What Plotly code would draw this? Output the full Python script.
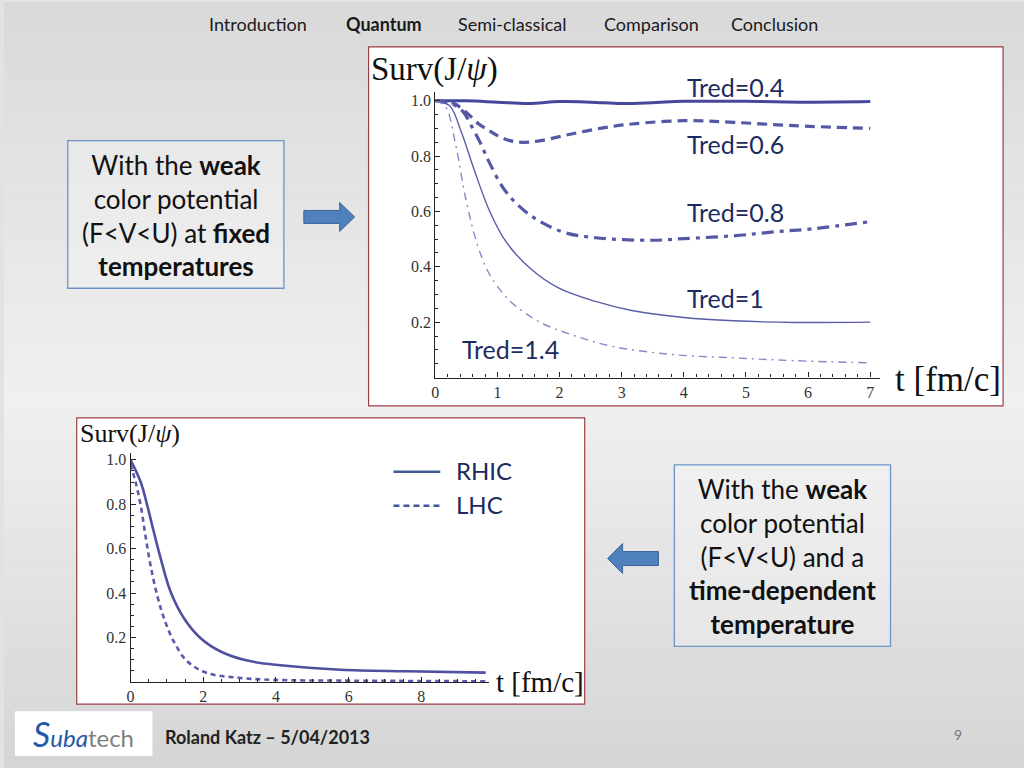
import plotly.graph_objects as go

# ---------------- data ----------------
t_04 = [0, 0.5, 1.0, 1.5, 2.0, 2.5, 3.0, 3.5, 4.0, 5.0, 6.0, 7.0]
s_04 = [1.0, 1.0, 0.995, 0.99, 0.997, 0.995, 0.99, 0.993, 0.998, 0.998, 0.995, 0.997]

t_06 = [0, 0.3, 0.5, 0.7, 0.88, 1.0, 1.2, 1.43, 1.7, 2.19, 2.7, 3.16, 4.0, 4.8, 5.77, 7.0]
s_06 = [1.0, 0.99, 0.958, 0.916, 0.89, 0.874, 0.856, 0.85, 0.856, 0.88, 0.902, 0.916, 0.928, 0.922, 0.91, 0.90]

t_08 = [0, 0.3, 0.45, 0.55, 0.72, 0.88, 1.14, 1.53, 2.05, 2.58, 3.49, 4.0, 4.8, 5.45, 6.1, 6.95]
s_08 = [1.0, 0.985, 0.96, 0.922, 0.85, 0.772, 0.67, 0.586, 0.526, 0.505, 0.496, 0.502, 0.512, 0.526, 0.538, 0.562]

t_10 = [0, 0.23, 0.42, 0.62, 0.88, 1.14, 1.53, 1.99, 2.58, 3.16, 4.0, 4.8, 5.77, 7.0]
s_10 = [1.0, 0.982, 0.886, 0.754, 0.598, 0.49, 0.394, 0.323, 0.275, 0.242, 0.217, 0.205, 0.199, 0.2]

t_14 = [0, 0.16, 0.33, 0.49, 0.68, 0.88, 1.21, 1.66, 2.19, 2.84, 3.82, 4.8, 5.77, 7.0]
s_14 = [1.0, 0.98, 0.838, 0.646, 0.478, 0.37, 0.275, 0.203, 0.155, 0.113, 0.083, 0.071, 0.061, 0.053]

t_rhic = [0, 0.28, 0.46, 0.64, 0.83, 1.1, 1.47, 1.93, 2.48, 3.21, 4.13, 5.78, 7.6, 9.77]
s_rhic = [1.0, 0.9, 0.795, 0.676, 0.556, 0.407, 0.287, 0.197, 0.137, 0.096, 0.075, 0.055, 0.048, 0.042]

t_lhc = [0, 0.14, 0.28, 0.41, 0.55, 0.73, 0.92, 1.19, 1.56, 2.11, 3.03, 3.94, 5.78, 9.77]
s_lhc = [0.98, 0.9, 0.795, 0.66, 0.526, 0.392, 0.287, 0.182, 0.093, 0.04, 0.018, 0.009, 0.006, 0.003]

top_xticks = [0, 1, 2, 3, 4, 5, 6, 7]
bot_xticks = [0, 2, 4, 6, 8]
yticks = [0.2, 0.4, 0.6, 0.8, 1.0]
ytick_text = ["0.2", "0.4", "0.6", "0.8", "1.0"]

tred_labels = ["Tred=0.4", "Tred=0.6", "Tred=0.8", "Tred=1", "Tred=1.4"]
nav_items = ["Introduction", "Quantum", "Semi-classical", "Comparison", "Conclusion"]

# ---------------- helpers ----------------
W, H = 1024, 768
def px(x):
    return x / W
def py(y):
    return 1 - y / H

NAVY = "#1c2b5e"

fig = go.Figure()

# top chart traces
fig.add_trace(go.Scatter(x=t_04, y=s_04, mode="lines", line=dict(color="#46489a", width=3, shape="spline"),
                         xaxis="x", yaxis="y", showlegend=False))
fig.add_trace(go.Scatter(x=t_06, y=s_06, mode="lines", line=dict(color="#5558a5", width=3.2, dash="10px,6px", shape="spline"),
                         xaxis="x", yaxis="y", showlegend=False))
fig.add_trace(go.Scatter(x=t_08, y=s_08, mode="lines", line=dict(color="#5558a5", width=3.2, dash="12px,6px,4px,6px", shape="spline"),
                         xaxis="x", yaxis="y", showlegend=False))
fig.add_trace(go.Scatter(x=t_10, y=s_10, mode="lines", line=dict(color="#5a5caa", width=1.4, shape="spline"),
                         xaxis="x", yaxis="y", showlegend=False))
fig.add_trace(go.Scatter(x=t_14, y=s_14, mode="lines", line=dict(color="#8789c6", width=1.4, dash="8px,5px,2px,5px", shape="spline"),
                         xaxis="x", yaxis="y", showlegend=False))

# bottom chart traces
fig.add_trace(go.Scatter(x=t_rhic, y=s_rhic, mode="lines", line=dict(color="#4f51a0", width=2.6, shape="spline"),
                         xaxis="x2", yaxis="y2", showlegend=False))
fig.add_trace(go.Scatter(x=t_lhc, y=s_lhc, mode="lines", line=dict(color="#5a5caa", width=2.6, dash="5px,4px", shape="spline"),
                         xaxis="x2", yaxis="y2", showlegend=False))

tickfont = dict(family="Liberation Serif", size=16, color="#333")
axis_common = dict(showgrid=False, zeroline=False, showline=True, linecolor="#222", linewidth=1.3,
                   ticks="inside", ticklen=5, tickcolor="#222", tickwidth=1.2, tickfont=tickfont,
                   fixedrange=True)

fig.update_layout(
    width=W, height=H, margin=dict(l=0, r=0, t=0, b=0),
    paper_bgcolor="#e2e2e2", plot_bgcolor="rgba(0,0,0,0)",
    xaxis=dict(domain=[px(433), px(879)], range=[0, 7.15], anchor="y",
               tickvals=top_xticks, minor=dict(dtick=0.2, ticks="inside", ticklen=3, tickcolor="#222"),
               **axis_common),
    yaxis=dict(domain=[py(376.5), py(90.7)], range=[0, 1.03], anchor="x",
               tickvals=yticks, ticktext=ytick_text,
               minor=dict(dtick=0.05, ticks="inside", ticklen=3, tickcolor="#222"),
               **axis_common),
    xaxis2=dict(domain=[px(127), px(486.5)], range=[0, 9.85], anchor="y2",
                tickvals=bot_xticks, minor=dict(dtick=0.5, ticks="inside", ticklen=3, tickcolor="#222"),
                **axis_common),
    yaxis2=dict(domain=[py(681.7), py(452.3)], range=[0, 1.03], anchor="x2",
                tickvals=yticks, ticktext=ytick_text,
                minor=dict(dtick=0.05, ticks="inside", ticklen=3, tickcolor="#222"),
                **axis_common),
)

shapes = []
# slide background gradient (horizontal bands): darker top & bottom, lightest near y=400
def grey_at(y):
    if y < 400:
        v = 217 + (240 - 217) * (y / 400)
    else:
        v = 240 - (240 - 213) * ((y - 400) / 368)
    v = int(round(v))
    return f"rgb({v},{v},{v})"

band = 12
for y0 in range(0, H, band):
    shapes.append(dict(type="rect", xref="paper", yref="paper", x0=0, x1=1,
                       y0=py(min(y0 + band, H)), y1=py(y0),
                       fillcolor=grey_at(y0 + band / 2), line=dict(width=0), layer="below"))

# chart frames (white with dark red border)
shapes.append(dict(type="rect", xref="paper", yref="paper", x0=px(366), x1=px(1003), y0=py(405), y1=py(45),
                   fillcolor="white", line=dict(color="#9c3d45", width=1.2), layer="below"))
shapes.append(dict(type="rect", xref="paper", yref="paper", x0=px(73), x1=px(583), y0=py(704), y1=py(417),
                   fillcolor="white", line=dict(color="#9c3d45", width=1.2), layer="below"))
# text boxes
shapes.append(dict(type="rect", xref="paper", yref="paper", x0=px(64), x1=px(281), y0=py(287), y1=py(139),
                   fillcolor="rgba(255,255,255,0.25)", line=dict(color="#6b94c8", width=1.3), layer="below"))
shapes.append(dict(type="rect", xref="paper", yref="paper", x0=px(673), x1=px(890), y0=py(646), y1=py(464),
                   fillcolor="rgba(255,255,255,0.25)", line=dict(color="#6b94c8", width=1.3), layer="below"))
# logo box
shapes.append(dict(type="rect", xref="paper", yref="paper", x0=px(11), x1=px(149), y0=py(756), y1=py(711),
                   fillcolor="white", line=dict(width=0), layer="below"))

def path(points):
    return "M " + " L ".join(f"{px(x):.5f},{py(y):.5f}" for x, y in points) + " Z"

right_arrow = [(301, 209), (337, 209), (337, 201), (352, 215.5), (337, 230), (337, 222), (301, 222)]
left_arrow = [(657, 551), (621, 551), (621, 543), (606, 558), (621, 573), (621, 565), (657, 565)]
for pts in (right_arrow, left_arrow):
    shapes.append(dict(type="path", xref="paper", yref="paper", path=path(pts),
                       fillcolor="#4f81bd", line=dict(color="#3a6496", width=1)))

# legend lines for bottom chart
shapes.append(dict(type="line", xref="paper", yref="paper", x0=px(391), x1=px(438), y0=py(471), y1=py(471),
                   line=dict(color="#3f5a94", width=2.5)))
shapes.append(dict(type="line", xref="paper", yref="paper", x0=px(391), x1=px(438), y0=py(505), y1=py(505),
                   line=dict(color="#3f5a94", width=2.5, dash="6px,4px")))
fig.update_layout(shapes=shapes)

ann = []
def text(x, y, s, size, color="#111", family="Lato", xanchor="center", yanchor="middle", align="center"):
    ann.append(dict(xref="paper", yref="paper", x=px(x), y=py(y), text=s, showarrow=False,
                    font=dict(size=size, color=color, family=family), xanchor=xanchor, yanchor=yanchor,
                    align=align))

# navigation
nav_x = [255, 381, 510, 650, 774]
for name, x in zip(nav_items, nav_x):
    label = f"<b>{name}</b>" if name == "Quantum" else name
    text(x, 22, label, 18, color="#1a1a1a")

# text boxes
text(172.5, 214, "With the <b>weak</b><br>color potential<br>(F&lt;V&lt;U) at <b>fixed</b><br><b>temperatures</b>", 26)
text(781.5, 556, "With the <b>weak</b><br>color potential<br>(F&lt;V&lt;U) and a<br><b>time-dependent</b><br><b>temperature</b>", 26)

# axis titles (serif)
text(366, 68, "Surv(J/<i>ψ</i>)", 33, color="#111", family="Liberation Serif", xanchor="left")
text(892, 378, "t [fm/c]", 35, color="#111", family="Liberation Serif", xanchor="left")
text(74, 433, "Surv(J/<i>ψ</i>)", 26, color="#111", family="Liberation Serif", xanchor="left")
text(492, 682, "t [fm/c]", 29, color="#111", family="Liberation Serif", xanchor="left")

# Tred labels
tred_pos = [(684, 85), (684, 142), (684, 211), (684, 297), (458, 348)]
for lab, (x, y) in zip(tred_labels, tred_pos):
    text(x, y, lab, 25, color=NAVY, xanchor="left")

# bottom legend text
text(452, 470, "RHIC", 24, color=NAVY, xanchor="left")
text(452, 504, "LHC", 24, color=NAVY, xanchor="left")

# footer
text(160, 737, "<b>Roland Katz – 5/04/2013</b>", 18, color="#222", xanchor="left")
text(958, 734, "9", 14, color="#777")
text(80, 733, "<span style='color:#1f5aa6;font-size:34px'><i>S</i></span><span style='color:#1f5aa6'><i>uba</i></span><span style='color:#808080'>tech</span>", 24,
     family="Lato")

fig.update_layout(annotations=ann)

fig.write_html("out.html", config={"displayModeBar": False},
               post_script="document.body.style.margin='0px';document.body.style.overflow='hidden';")
